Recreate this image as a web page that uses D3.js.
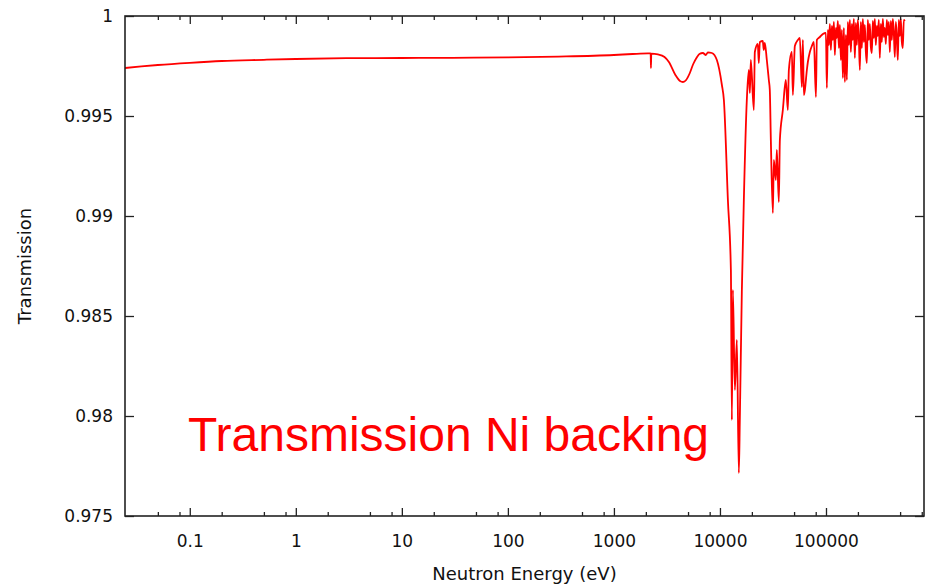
<!DOCTYPE html>
<html>
<head>
<meta charset="utf-8">
<script src="https://cdn.jsdelivr.net/npm/d3@7"></script>
<style>
  body { margin: 0; background: #fff; }
  svg { display: block; }
</style>
</head>
<body>
<div id="chart"></div>
<script>
// neutron energy (eV) and transmission
var energy = [
    0.0245, 0.035, 0.05, 0.1, 0.2, 0.5, 1, 3, 10, 30, 100, 300, 1000, 1500, 2100,
    2220, 2235, 2250, 2600, 3000, 3300, 3800, 4200, 4480, 4800, 5200, 5600, 6000, 6400, 6900,
    7370, 7690, 8390, 9350, 10430, 10890, 11880, 12680, 12950, 13240, 13830, 14430,
    15070, 15410, 16080, 16800, 17920, 18710, 19140, 19550, 20860, 21330, 22750,
    23240, 23770, 25350, 25880, 26480, 27670, 28900, 29520, 30200, 31550, 32220,
    33650, 34390, 35910, 36730, 39180, 41800, 43650, 44650, 47640, 48710, 50850,
    54280, 56710, 59190, 60520, 61850, 63210, 66020, 67460, 70440, 73560, 76870,
    80350, 82000, 87550, 93500, 99800, 101900,
    104200, 106500, 108800, 111200, 113600, 116100, 118700, 121300, 123900, 126600,
    129400, 132300, 135200, 138100, 141200, 144300, 147400, 150700, 154000, 157300,
    160800, 164300, 167900, 171600, 175300, 179200, 183100, 187100, 191200, 195400,
    199700, 204100, 208600, 213100, 217800, 222600, 227500, 232500, 237600, 242800,
    248100, 253500, 259100, 264800, 270600, 276500, 282600, 288800, 295100, 301600,
    308200, 315000, 321900, 329000, 336200, 343600, 351100, 358800, 366700, 374700,
    383000, 391400, 400000, 408700, 417700, 426900, 436200, 445800, 455600, 465600,
    475800, 486200, 496900, 507800, 518900, 530300, 541900, 553800
];
var transmission = [
    0.9974, 0.99748, 0.99755, 0.99766, 0.99775, 0.99781, 0.99785, 0.99789, 0.9979, 0.99791,
    0.99793, 0.99797, 0.99805, 0.9981, 0.99813,
    0.99813, 0.9974, 0.99812, 0.99808, 0.99795, 0.9977, 0.99705, 0.99675, 0.9967, 0.9968,
    0.99715, 0.9976, 0.9979, 0.9981, 0.99815, 0.99805, 0.99818, 0.99815, 0.9978, 0.99655,
    0.9958, 0.9908, 0.9873, 0.9798, 0.9863, 0.9813, 0.9838, 0.97715, 0.97995, 0.9862,
    0.9908, 0.9958, 0.9973, 0.99615, 0.9978, 0.9953, 0.9982, 0.9986, 0.99765, 0.9987,
    0.99875, 0.9983, 0.99865, 0.9978, 0.9968, 0.9963, 0.9938, 0.99015, 0.9928, 0.9918,
    0.9933, 0.9907, 0.9938, 0.9953, 0.9968, 0.9953, 0.9973, 0.9982, 0.99605, 0.9985,
    0.9988, 0.9989, 0.99645, 0.9988, 0.99605, 0.9963, 0.9973, 0.9977, 0.9982, 0.9985,
    0.9987, 0.99595, 0.9988, 0.99895, 0.9991, 0.99915, 0.9964,
    0.9993, 0.99855, 0.9996, 0.9983, 0.9995, 0.9988, 0.9997, 0.99805, 0.9994, 0.9989,
    0.99975, 0.9984, 0.99955, 0.9978, 0.9993, 0.9969, 0.9994, 0.9967, 0.99905, 0.9968,
    0.9997, 0.99855, 0.9998, 0.9982, 0.9996, 0.9988, 0.99985, 0.9979, 0.99965, 0.99855,
    0.9998, 0.9989, 0.9973, 0.9997, 0.9984, 0.99985, 0.9987, 0.99955, 0.9982, 0.99765,
    0.9998, 0.9988, 0.9996, 0.99845, 0.99815, 0.99975, 0.9989, 0.99985, 0.99855, 0.9995,
    0.999, 0.9998, 0.9979, 0.9996, 0.9987, 0.99985, 0.99895, 0.9994, 0.9986, 0.9998,
    0.99905, 0.9997, 0.9982, 0.99975, 0.9988, 0.99985, 0.99915, 0.99795, 0.9997, 0.9989,
    0.9978, 0.9998, 0.999, 0.99985, 0.9987, 0.9984, 0.9998, 0.99975
];

var xTicks = [0.1, 1, 10, 100, 1000, 10000, 100000];
var xTickLabels = ["0.1", "1", "10", "100", "1000", "10000", "100000"];
var xMinorSteps = [2, 5, 8];
var yTicks = [0.975, 0.98, 0.985, 0.99, 0.995, 1];
var yTickLabels = ["0.975", "0.98", "0.985", "0.99", "0.995", "1"];

var width = 928, height = 584;
var margin = {left: 125, right: 4, top: 16, bottom: 68};

var svg = d3.select("#chart").append("svg")
    .attr("width", width)
    .attr("height", height)
    .style("font-family", "'DejaVu Sans', sans-serif");

var x = d3.scaleLog()
    .domain([0.0245, 8.4e5])
    .range([margin.left, width - margin.right]);

var y = d3.scaleLinear()
    .domain([0.975, 1])
    .range([height - margin.bottom, margin.top]);

var xMinor = [];
for (var p = -2; p <= 5; p++) {
    xMinorSteps.forEach(function(m) {
        var v = m * Math.pow(10, p);
        if (v > x.domain()[0] && v < x.domain()[1]) xMinor.push(v);
    });
}

var data = energy.map(function(e, i) { return [e, transmission[i]]; });

svg.append("clipPath").attr("id", "plotclip")
    .append("rect")
    .attr("x", margin.left).attr("y", margin.top)
    .attr("width", width - margin.left - margin.right)
    .attr("height", height - margin.top - margin.bottom);

var line = d3.line()
    .curve(d3.curveMonotoneX)
    .x(function(d) { return x(d[0]); })
    .y(function(d) { return y(d[1]); });

svg.append("path")
    .datum(data)
    .attr("clip-path", "url(#plotclip)")
    .attr("fill", "none")
    .attr("stroke", "#ff0000")
    .attr("stroke-width", 1.8)
    .attr("stroke-linejoin", "round")
    .attr("d", line);

// axes, ticks drawn inward like gnuplot
var y0 = height - margin.bottom, x0 = margin.left, x1 = width - margin.right;

var gxb = svg.append("g").attr("transform", "translate(0," + y0 + ")")
    .call(d3.axisBottom(x).tickValues(xTicks)
        .tickFormat(function(d, i) { return xTickLabels[i]; })
        .tickSizeInner(-8).tickSizeOuter(0).tickPadding(19));
var gxbm = svg.append("g").attr("transform", "translate(0," + y0 + ")")
    .call(d3.axisBottom(x).tickValues(xMinor).tickFormat("")
        .tickSizeInner(-4).tickSizeOuter(0));
var gxt = svg.append("g").attr("transform", "translate(0," + margin.top + ")")
    .call(d3.axisTop(x).tickValues(xTicks).tickFormat("")
        .tickSizeInner(-8).tickSizeOuter(0));
var gxtm = svg.append("g").attr("transform", "translate(0," + margin.top + ")")
    .call(d3.axisTop(x).tickValues(xMinor).tickFormat("")
        .tickSizeInner(-4).tickSizeOuter(0));
var gyl = svg.append("g").attr("transform", "translate(" + x0 + ",0)")
    .call(d3.axisLeft(y).tickValues(yTicks)
        .tickFormat(function(d, i) { return yTickLabels[i]; })
        .tickSizeInner(-9).tickSizeOuter(0).tickPadding(12));
var gyr = svg.append("g").attr("transform", "translate(" + x1 + ",0)")
    .call(d3.axisRight(y).tickValues(yTicks).tickFormat("")
        .tickSizeInner(-9).tickSizeOuter(0));

[gxb, gxbm, gxt, gxtm, gyl, gyr].forEach(function(g) {
    g.select(".domain").remove();
    g.selectAll("line").attr("stroke", "#222").attr("stroke-width", 1.3);
    g.selectAll("text").attr("fill", "#111").style("font-size", "17px")
        .style("font-family", "'DejaVu Sans', sans-serif");
});

svg.append("rect")
    .attr("x", x0).attr("y", margin.top)
    .attr("width", x1 - x0).attr("height", y0 - margin.top)
    .attr("fill", "none")
    .attr("stroke", "#222")
    .attr("stroke-width", 1.6);

svg.append("text")
    .attr("x", (x0 + x1) / 2)
    .attr("y", 580)
    .attr("text-anchor", "middle")
    .attr("fill", "#111")
    .style("font-size", "18px")
    .text("Neutron Energy (eV)");

svg.append("text")
    .attr("transform", "translate(31," + ((margin.top + y0) / 2) + ") rotate(-90)")
    .attr("text-anchor", "middle")
    .attr("fill", "#111")
    .style("font-size", "18px")
    .text("Transmission");

svg.append("text")
    .attr("x", 188)
    .attr("y", 451)
    .attr("fill", "#ff0000")
    .style("font-family", "'Liberation Sans', Arial, sans-serif")
    .style("font-size", "48px")
    .text("Transmission Ni backing");
</script>
</body>
</html>
